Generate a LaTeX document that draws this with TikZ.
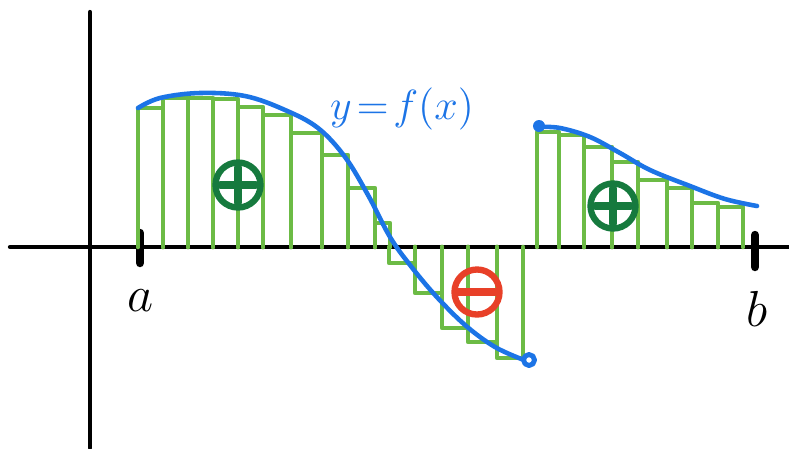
\documentclass[tikz,border=0pt]{standalone}
\usepackage{amsmath}
\definecolor{stripgreen}{RGB}{108,187,69}
\definecolor{curveblue}{RGB}{28,116,230}
\definecolor{signgreen}{RGB}{22,122,62}
\definecolor{signred}{RGB}{232,64,40}

\begin{document}
\begin{tikzpicture}[x=0.01cm, y=-0.01cm, line cap=round, line join=round,
    axis/.style={line width=1.2pt, black},
    tick/.style={line width=2.4pt, black},
    strip/.style={line width=1.3pt, stripgreen},
    graph/.style={line width=1.3pt, curveblue},
    sign/.style={circle, draw, line width=1.8pt, minimum size=0.45cm, inner sep=0pt}]
    \useasboundingbox (0,0) rectangle (789,448);

    % Axes
    \draw[axis] (10,247) -- (789,247);
    \draw[axis] (90,12) -- (90,448);

    % Ticks at a and b
    \draw[tick] (140,233) -- (140,263);
    \draw[tick] (755,235) -- (755,267);

    % Rectangles above the axis (left piece)
    \foreach \xa/\xb/\h in {138/163/108, 163/188/98, 188/213/98, 213/238/99,
                            238/263/107, 263/291/115, 291/322/133, 322/348/155,
                            348/375/188, 375/390/223}
        \draw[strip] (\xa,247) -- (\xa,\h) -- (\xb,\h) -- (\xb,247);

    % Rectangles below the axis
    \foreach \xa/\xb/\h in {389/415/263, 415/442/293, 442/468/328,
                            468/497/342, 497/523/358}
        \draw[strip] (\xa,247) -- (\xa,\h) -- (\xb,\h) -- (\xb,247);

    % Rectangles above the axis (right piece)
    \foreach \xa/\xb/\h in {537/559/132, 559/584/135, 584/612/147, 612/638/162,
                            638/667/180, 667/692/188, 692/718/203, 718/743/207}
        \draw[strip] (\xa,247) -- (\xa,\h) -- (\xb,\h) -- (\xb,247);

    % Graph of f, left piece
    \draw[graph] plot[smooth, tension=0.6] coordinates {(138,108) (160,98) (200,93)
        (245,96) (285,110) (318,128) (345,157) (368,195) (390,237) (410,265)
        (435,295) (465,325) (495,347) (524,360)};

    % Graph of f, right piece
    \draw[graph] plot[smooth, tension=0.6] coordinates {(539,127) (560,128)
        (590,137) (620,153) (650,170) (690,186) (725,199) (757,206)};

    % Open and filled end points
    \node[circle, draw=curveblue, line width=1.4pt, minimum size=0.11cm, inner sep=0pt, fill=white] (hole) at (529,360) {};
    \node[circle, fill=curveblue, minimum size=0.12cm, inner sep=0pt] (dot) at (539,126) {};

    % Signs of the areas
    \node[sign, draw=signgreen, path picture={\draw[signgreen, line width=2.4pt]
        ([yshift=5pt]path picture bounding box.center) -- ([yshift=-5pt]path picture bounding box.center)
        ([xshift=-5pt]path picture bounding box.center) -- ([xshift=5pt]path picture bounding box.center);}]
        (plusleft) at (238,185) {};
    \node[sign, draw=signgreen, path picture={\draw[signgreen, line width=2.4pt]
        ([yshift=5pt]path picture bounding box.center) -- ([yshift=-5pt]path picture bounding box.center)
        ([xshift=-5pt]path picture bounding box.center) -- ([xshift=5pt]path picture bounding box.center);}]
        (plusright) at (613,206) {};
    \node[sign, draw=signred, path picture={\draw[signred, line width=2.4pt]
        ([xshift=-7pt]path picture bounding box.center) -- ([xshift=7pt]path picture bounding box.center);}]
        (minus) at (477,292) {};

    % Labels
    \node[text=curveblue, font=\large, anchor=base, inner sep=0pt] (flabel) at (402,119) {$y\!=\!f(x)$};
    \node[font=\Large, anchor=base, inner sep=0pt] (alabel) at (141,311) {$a$};
    \node[font=\Large, anchor=base, inner sep=0pt] (blabel) at (757,326) {$b$};
\end{tikzpicture}
\end{document}
